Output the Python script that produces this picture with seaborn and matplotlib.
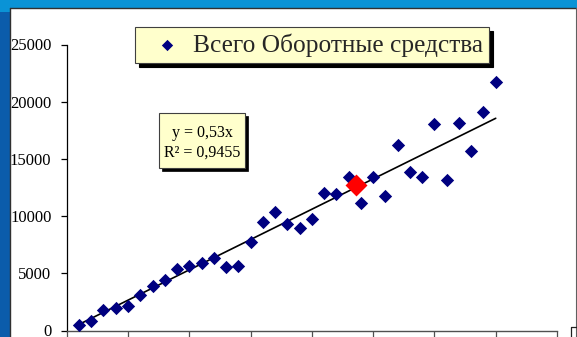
import matplotlib
matplotlib.use("Agg")
import matplotlib.pyplot as plt
from matplotlib.patches import Rectangle
from matplotlib.lines import Line2D
import numpy as np
import pandas as pd
import seaborn as sns

# Observations (x in thousands of units, y = total working capital)
x_vals = [1000, 2000, 3000, 4000, 5000, 6000, 7000, 8000, 9000, 10000,
          11000, 12000, 13000, 14000, 15000, 16000, 17000, 18000, 19000, 20000,
          21000, 22000, 23000, 24000, 25000, 26000, 27000, 28000, 29000, 30000,
          31000, 32000, 33000, 34000, 35000]
y_vals = [455, 860, 1790, 1990, 2140, 3100, 3890, 4410, 5350, 5640,
          5930, 6360, 5550, 5640, 7730, 9480, 10360, 9310, 8960, 9740,
          12020, 11970, 13420, 11140, 13420, 11750, 16210, 13850, 13420, 18050,
          13150, 18130, 15690, 19100, 21720]

# Highlighted point
hi_x = [23600]
hi_y = [12700]

# Linear trend through the origin
slope = 0.53
r_squared = "0,9455"
series_name = "Всего Оборотные средства"

y_ticks = [0, 5000, 10000, 15000, 20000, 25000]
x_ticks = [0, 5000, 10000, 15000, 20000, 25000, 30000, 35000, 40000]

df = pd.DataFrame({"x": x_vals, "y": y_vals})
trend = pd.DataFrame({"x": [x_vals[0], x_vals[-1]],
                      "y": [slope * x_vals[0], slope * x_vals[-1]]})
hi = pd.DataFrame({"x": hi_x, "y": hi_y})

sns.set_theme(style="white")
plt.rcParams["font.family"] = ["Liberation Serif", "DejaVu Serif"]

W, H = 577, 337
fig = plt.figure(figsize=(W / 100, H / 100), dpi=100)
fig.patch.set_facecolor("white")


def fx(px):
    return px / W


def fy(py):
    return 1 - py / H


# Slide frame around the chart area
fig.add_artist(Rectangle((0, fy(7.5)), 1, 7.5 / H, transform=fig.transFigure,
                         facecolor="#0a93d6", edgecolor="none", zorder=0))
fig.add_artist(Rectangle((0, fy(12)), fx(10.3), 12 / H, transform=fig.transFigure,
                         facecolor="#0a93d6", edgecolor="none", zorder=0))
fig.add_artist(Rectangle((0, 0), fx(10), fy(12), transform=fig.transFigure,
                         facecolor="#0b5cab", edgecolor="none", zorder=0))
fig.add_artist(Line2D([fx(10), fx(576)], [fy(7.8), fy(7.8)], transform=fig.transFigure,
                      color="#303030", lw=1.0))
fig.add_artist(Line2D([fx(10.3), fx(10.3)], [fy(7.8), 0], transform=fig.transFigure,
                      color="#303030", lw=1.0))
fig.add_artist(Line2D([fx(576.3), fx(576.3)], [fy(7.8), 0], transform=fig.transFigure,
                      color="#606060", lw=0.8))
# Corner of the neighbouring box
fig.add_artist(Line2D([fx(570.5), fx(570.5), fx(578)], [0, fy(326.5), fy(326.5)],
                      transform=fig.transFigure, color="#202020", lw=0.9))

ax = fig.add_axes([fx(66.7), fy(330.5), fx(557) - fx(66.7), fy(44.5) - fy(330.5)])
ax.set_facecolor("none")

sns.lineplot(data=trend, x="x", y="y", ax=ax, color="black", linewidth=1.2,
             legend=False, zorder=2)
sns.scatterplot(data=df, x="x", y="y", ax=ax, marker="D", s=46, color="#000080",
                linewidth=0, label=series_name, zorder=3)
sns.scatterplot(data=hi, x="x", y="y", ax=ax, marker="D", s=125, color="#ff0000",
                linewidth=0, legend=False, zorder=4)

ax.set_xlim(0, 40000)
ax.set_ylim(0, 25000)
ax.set_xticks(x_ticks)
ax.set_yticks(y_ticks)
ax.set_yticklabels([str(v) for v in y_ticks])
ax.set_xlabel("")
ax.set_ylabel("")
ax.tick_params(axis="y", left=True, direction="out", length=4, width=0.9,
               colors="black", labelsize=12, pad=7)
ax.tick_params(axis="x", bottom=True, direction="out", length=6, width=0.9,
               colors="#505050", labelbottom=False)
for side in ("top", "right"):
    ax.spines[side].set_visible(False)
ax.spines["left"].set_color("black")
ax.spines["left"].set_linewidth(0.9)
ax.spines["bottom"].set_color("#505050")
ax.spines["bottom"].set_linewidth(1.0)
ax.grid(False)

leg = ax.legend(loc="upper left", bbox_to_anchor=(fx(135), fy(27.3)),
                bbox_transform=fig.transFigure, prop={"family": "Liberation Serif", "size": 18.3},
                frameon=True, fancybox=False, framealpha=1, facecolor="#ffffcc",
                edgecolor="#404040", borderpad=0.24, handlelength=2.0,
                handletextpad=0.05, borderaxespad=0, markerscale=0.85,
                shadow={"ox": 2.6, "oy": -2.6, "color": "black", "alpha": 1})
leg.get_frame().set_linewidth(0.8)

# Trend equation box with drop shadow
fig.add_artist(Rectangle((fx(162.3), fy(171.3)), fx(245) - fx(159.3), fy(113.3) - fy(168.3),
                         transform=fig.transFigure, facecolor="black", edgecolor="black",
                         lw=0.5, zorder=5))
fig.add_artist(Rectangle((fx(159.3), fy(168.3)), fx(245) - fx(159.3), fy(113.3) - fy(168.3),
                         transform=fig.transFigure, facecolor="#ffffcc", edgecolor="#404040",
                         lw=0.8, zorder=6))
fig.text(fx(202.5), fy(142.5), f"y = {str(slope).replace('.', ',')}x\nR² = {r_squared}",
         ha="center", va="center", multialignment="center", fontsize=11.5,
         linespacing=1.3, color="black", zorder=7)

fig.savefig("out.png", dpi=100)
